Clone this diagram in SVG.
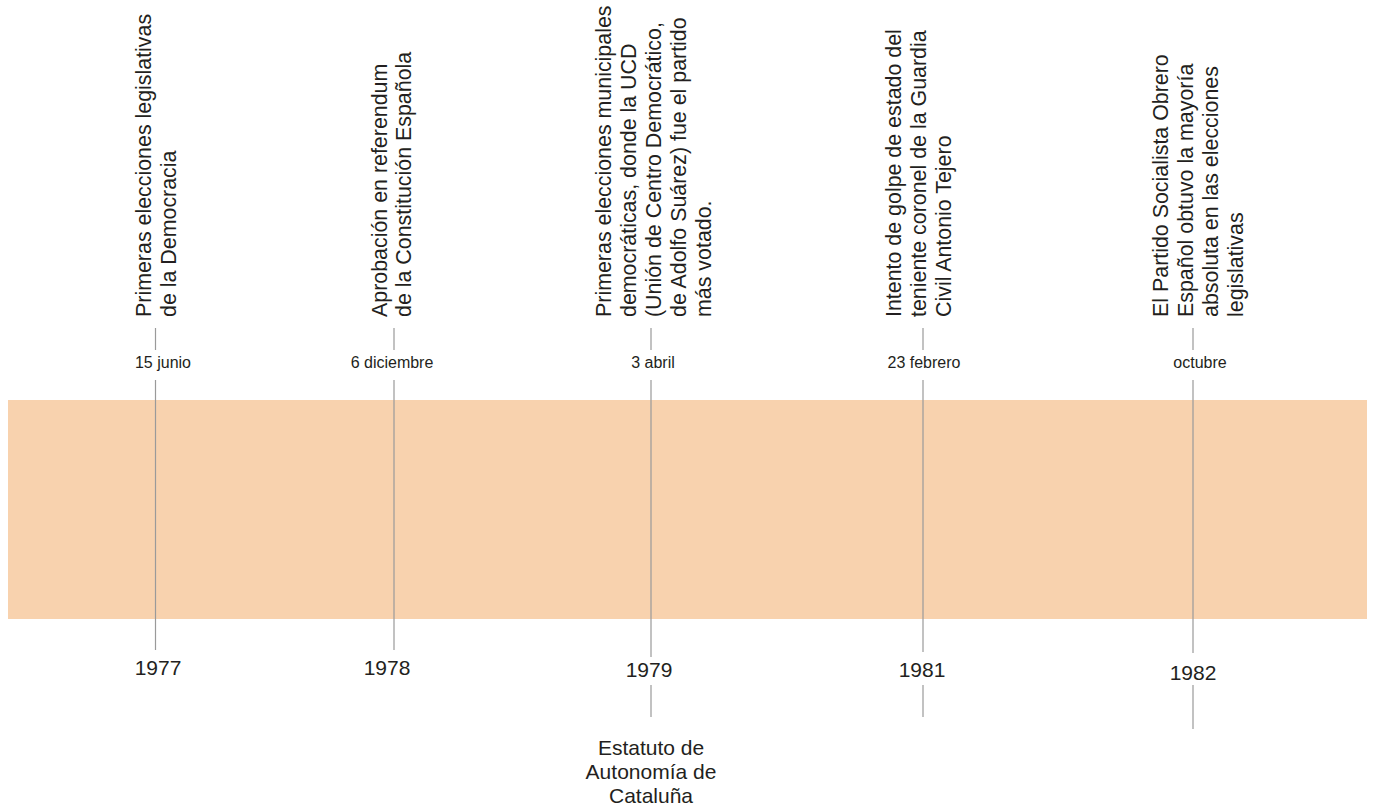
<svg xmlns="http://www.w3.org/2000/svg" width="1373" height="807" viewBox="0 0 1373 807">
<style>
text{font-family:"Liberation Sans",Arial,sans-serif;fill:#231f20}
.v{font-size:21.4px}
.d{font-size:16px;text-anchor:middle}
.y{font-size:21px;text-anchor:middle}
.e{font-size:21px;text-anchor:middle}
.ln{stroke:#9a9a9a;stroke-width:1.2;fill:none}
</style>
<rect id="band" x="8" y="400" width="1359" height="219" fill="#f8d2ae"/>
<g id="connectors">
<path class="ln" d="M155.5 328V350M155.5 380V650"/>
<path class="ln" d="M394 328V350M394 380V650"/>
<path class="ln" d="M651 328V350M651 380V657M651 685V717"/>
<path class="ln" d="M923 328V350M923 380V652M923 685V717"/>
<path class="ln" d="M1193 328V350M1193 380V653M1193 685V729"/>
</g>
<g id="e1977">
<text class="v" transform="translate(151 317) rotate(-90)">Primeras elecciones legislativas</text>
<text class="v" transform="translate(176 317) rotate(-90)">de la Democracia</text>
<text class="d" x="163" y="368">15 junio</text>
<text class="y" x="158" y="675">1977</text>
</g>
<g id="e1978">
<text class="v" transform="translate(387 317) rotate(-90)">Aprobación en referendum</text>
<text class="v" transform="translate(411 317) rotate(-90)">de la Constitución Española</text>
<text class="d" x="392" y="368">6 diciembre</text>
<text class="y" x="387" y="675">1978</text>
</g>
<g id="e1979">
<text class="v" transform="translate(611 317) rotate(-90)">Primeras elecciones municipales</text>
<text class="v" transform="translate(636 317) rotate(-90)">democráticas, donde la UCD</text>
<text class="v" transform="translate(661 317) rotate(-90)">(Unión de Centro Democrático,</text>
<text class="v" transform="translate(686 317) rotate(-90)">de Adolfo Suárez) fue el partido</text>
<text class="v" transform="translate(711 317) rotate(-90)">más votado.</text>
<text class="d" x="653" y="368">3 abril</text>
<text class="y" x="649" y="677">1979</text>
<text class="e" x="651" y="755">Estatuto de</text>
<text class="e" x="651" y="779">Autonomía de</text>
<text class="e" x="651" y="803">Cataluña</text>
</g>
<g id="e1981">
<text class="v" transform="translate(901 317) rotate(-90)">Intento de golpe de estado del</text>
<text class="v" transform="translate(926 317) rotate(-90)">teniente coronel de la Guardia</text>
<text class="v" transform="translate(951 317) rotate(-90)">Civil Antonio Tejero</text>
<text class="d" x="924" y="368">23 febrero</text>
<text class="y" x="922" y="677">1981</text>
</g>
<g id="e1982">
<text class="v" transform="translate(1168 317) rotate(-90)">El Partido Socialista Obrero</text>
<text class="v" transform="translate(1193 317) rotate(-90)">Español obtuvo la mayoría</text>
<text class="v" transform="translate(1218 317) rotate(-90)">absoluta en las elecciones</text>
<text class="v" transform="translate(1243 317) rotate(-90)">legislativas</text>
<text class="d" x="1200" y="368">octubre</text>
<text class="y" x="1193" y="680">1982</text>
</g>
</svg>
